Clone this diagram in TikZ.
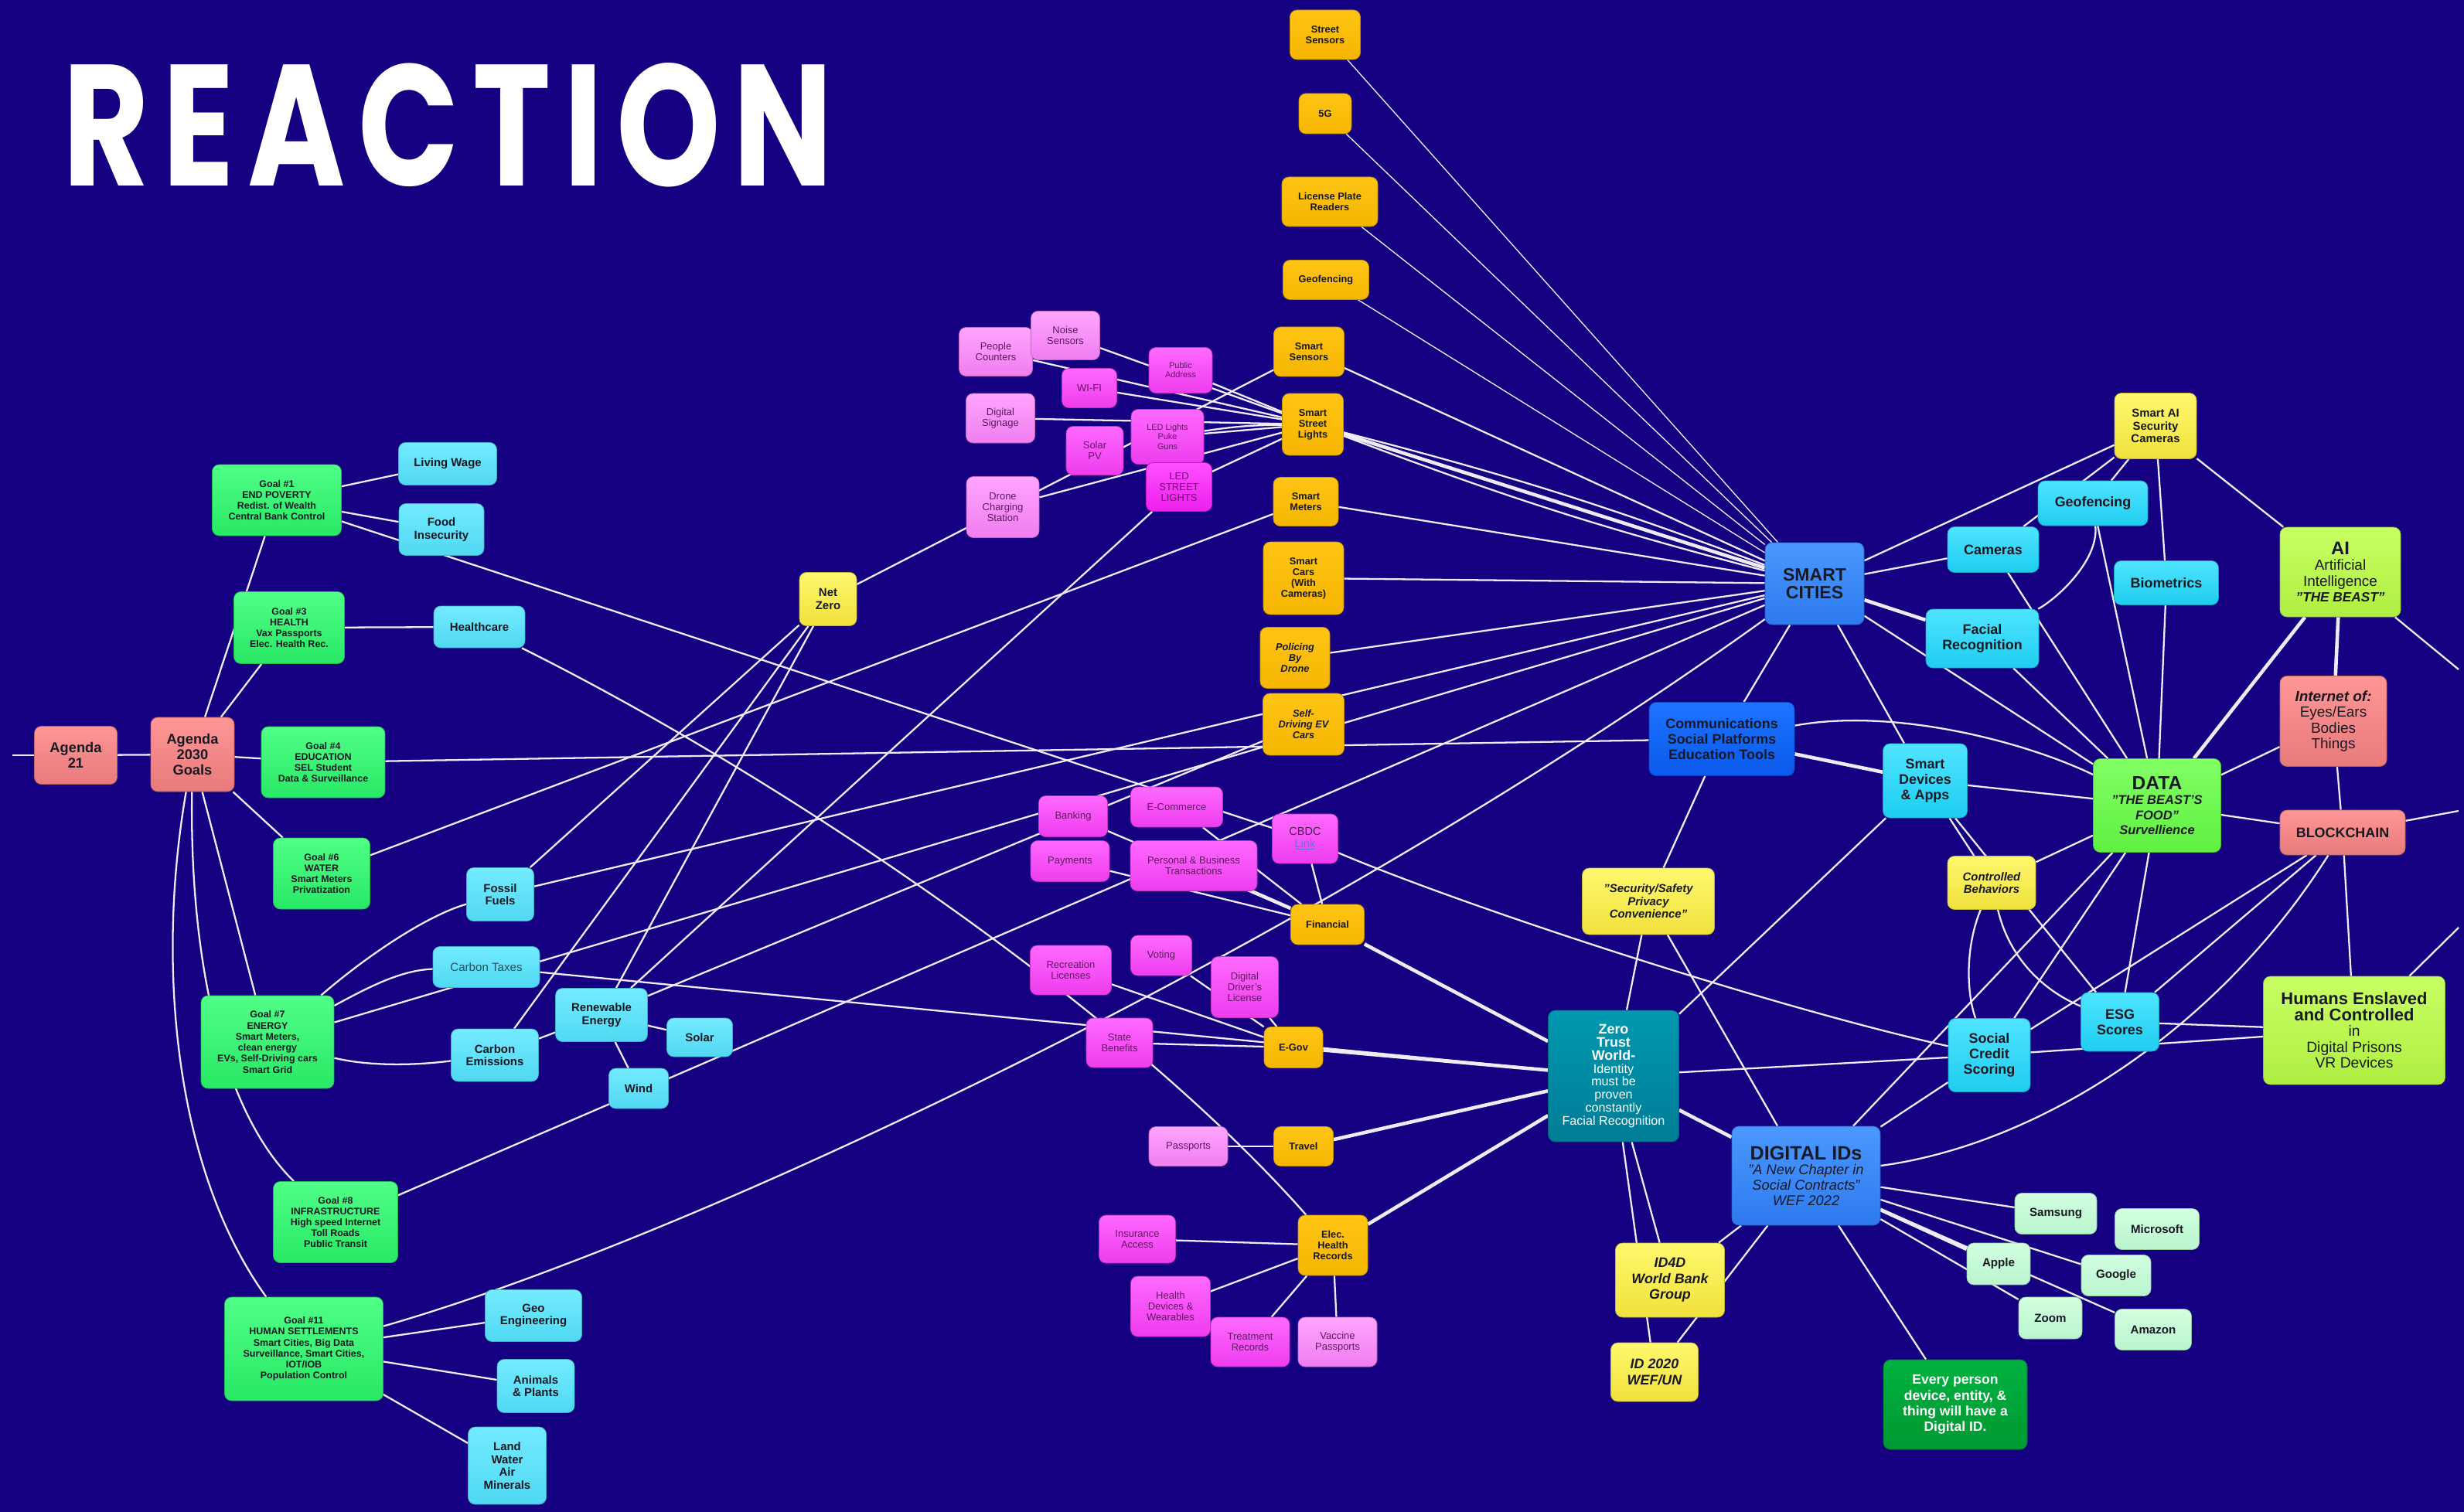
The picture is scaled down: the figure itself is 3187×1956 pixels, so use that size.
\documentclass[tikz,border=0pt]{standalone}
\usepackage{fontspec}
\usepackage{graphicx}
\setmainfont{Liberation Sans}
\newfontfamily\titlefont{Poppins}[LetterSpace=10]
\usetikzlibrary{positioning}

\definecolor{bgc}{RGB}{20,0,128}
\definecolor{wirec}{RGB}{236,236,246}
\definecolor{ink}{RGB}{25,25,35}
\definecolor{pinkink}{RGB}{95,25,95}
\definecolor{ctaxink}{RGB}{40,80,95}
\definecolor{cbdcink}{RGB}{60,40,70}
\definecolor{linkc}{RGB}{110,110,230}
\definecolor{salT}{RGB}{255,150,150}\definecolor{salB}{RGB}{232,122,122}
\definecolor{goT}{RGB}{80,255,135}\definecolor{goB}{RGB}{40,232,100}
\definecolor{cyT}{RGB}{115,235,255}\definecolor{cyB}{RGB}{80,216,242}
\definecolor{cbT}{RGB}{80,228,255}\definecolor{cbB}{RGB}{30,205,240}
\definecolor{yeT}{RGB}{255,248,110}\definecolor{yeB}{RGB}{240,225,60}
\definecolor{orT}{RGB}{255,196,20}\definecolor{orB}{RGB}{245,182,0}
\definecolor{plT}{RGB}{255,165,255}\definecolor{plB}{RGB}{240,125,240}
\definecolor{pmT}{RGB}{255,105,255}\definecolor{pmB}{RGB}{238,60,238}
\definecolor{psT}{RGB}{255,80,255}\definecolor{psB}{RGB}{238,30,238}
\definecolor{blT}{RGB}{75,152,255}\definecolor{blB}{RGB}{45,122,240}
\definecolor{bcT}{RGB}{30,115,255}\definecolor{bcB}{RGB}{10,90,235}
\definecolor{tlT}{RGB}{0,152,176}\definecolor{tlB}{RGB}{0,124,150}
\definecolor{daT}{RGB}{130,255,100}\definecolor{daB}{RGB}{95,240,65}
\definecolor{liT}{RGB}{200,255,100}\definecolor{liB}{RGB}{175,238,65}
\definecolor{evT}{RGB}{0,178,64}\definecolor{evB}{RGB}{0,152,50}
\definecolor{miT}{RGB}{210,255,225}\definecolor{miB}{RGB}{185,245,205}

\newcommand{\fAg}{\fontsize{10.4}{11.2}\selectfont\bfseries}
\newcommand{\fGoal}{\fontsize{7.1}{8.1}\selectfont\bfseries}
\newcommand{\fOr}{\fontsize{7.3}{8.0}\selectfont\bfseries}
\newcommand{\fPk}{\fontsize{7.4}{7.9}\selectfont}
\newcommand{\fPks}{\fontsize{6.2}{6.9}\selectfont}
\newcommand{\fCy}{\fontsize{8.5}{9.4}\selectfont\bfseries}
\newcommand{\fCt}{\fontsize{8.6}{9.4}\selectfont}
\newcommand{\fCb}{\fontsize{8.3}{9.0}\selectfont}
\newcommand{\fBig}{\fontsize{10.2}{11.4}\selectfont\bfseries}
\newcommand{\fReg}{\fontsize{10.8}{11.5}\selectfont}
\newcommand{\fHead}{\fontsize{13.1}{13.5}\selectfont\bfseries}
\newcommand{\fYi}{\fontsize{8.5}{9.4}\selectfont\bfseries\itshape}
\newcommand{\fYa}{\fontsize{8.5}{9.4}\selectfont\bfseries}
\newcommand{\fYb}{\fontsize{10.2}{11.7}\selectfont\bfseries\itshape}
\newcommand{\fCo}{\fontsize{8.6}{9.4}\selectfont\bfseries}
\newcommand{\fEv}{\fontsize{10}{11.5}\selectfont\bfseries}

\pgfdeclarelayer{back}
\pgfdeclarelayer{edges}
\pgfsetlayers{back,edges,main}

\tikzset{
  wire/.style={draw=wirec, line width=1.3pt},
  thinwire/.style={draw=wirec, line width=0.75pt},
  fatwire/.style={draw=wirec, line width=2.6pt},
  wh/.style 2 args={minimum width=#1*0.02cm, minimum height=#2*0.02cm},
  box/.style={rounded corners=0.18cm, inner sep=1pt, align=center, text=ink, line width=0.4pt},
  salmonbox/.style={box, top color=salT, bottom color=salB, draw=salB!80!black},
  goalbox/.style={box, top color=goT, bottom color=goB, draw=goB!80!black, font=\fGoal},
  cyanbox/.style={box, top color=cyT, bottom color=cyB, draw=cyB!80!black, font=\fCy},
  cyanbbox/.style={box, top color=cbT, bottom color=cbB, draw=cbB!80!black, font=\fBig},
  yellowbox/.style={box, top color=yeT, bottom color=yeB, draw=yeB!80!black},
  orangebox/.style={box, top color=orT, bottom color=orB, draw=orB!80!black, font=\fOr},
  pinklbox/.style={box, top color=plT, bottom color=plB, draw=plB!80!black, font=\fPk, text=pinkink},
  pinkbox/.style={box, top color=pmT, bottom color=pmB, draw=pmB!80!black, font=\fPk, text=pinkink},
  pinksbox/.style={box, top color=psT, bottom color=psB, draw=psB!80!black, font=\fPk, text=pinkink},
  bluebox/.style={box, top color=blT, bottom color=blB, draw=blB!80!black},
  commbox/.style={box, top color=bcT, bottom color=bcB, draw=bcB!80!black, font=\fBig},
  tealbox/.style={box, top color=tlT, bottom color=tlB, draw=tlB!80!black, text=white},
  databox/.style={box, top color=daT, bottom color=daB, draw=daB!80!black},
  limebox/.style={box, top color=liT, bottom color=liB, draw=liB!80!black},
  everybox/.style={box, top color=evT, bottom color=evB, draw=evB!80!black, text=white, font=\fEv},
  mintbox/.style={box, top color=miT, bottom color=miB, draw=miB!80!black, font=\fCo},
}

\begin{document}
\begin{tikzpicture}[x=0.02cm, y=-0.02cm]
    \useasboundingbox (0,0) rectangle (3187,1956);
    \begin{pgfonlayer}{back}
        \fill[bgc] (0,0) rectangle (3187,1956);
    \end{pgfonlayer}

    % Title
    \node[anchor=north west, inner sep=0pt, text=white] (title) at (81,81)
        {\resizebox{19.92cm}{3.18cm}{\titlefont\bfseries REACTION}};

    % Agenda and goals
    \node[salmonbox, wh={107}{75}, font=\fAg] (agtwo) at (98,977) {Agenda\\21};
    \node[salmonbox, wh={108}{96}, font=\fAg] (agthirty) at (249,976) {Agenda\\2030\\Goals};
    \node[goalbox, wh={167}{92}] (gone) at (358,647) {Goal \#1\\END POVERTY\\Redist. of Wealth\\Central Bank Control};
    \node[goalbox, wh={143}{93}] (gthree) at (374,812) {Goal \#3\\HEALTH\\Vax Passports\\Elec. Health Rec.};
    \node[goalbox, wh={160}{92}] (gfour) at (418,986) {Goal \#4\\EDUCATION\\SEL Student\\Data \& Surveillance};
    \node[goalbox, wh={125}{92}] (gsix) at (416,1130) {Goal \#6\\WATER\\Smart Meters\\Privatization};
    \node[goalbox, wh={172}{120}] (gseven) at (346,1348) {Goal \#7\\ENERGY\\Smart Meters,\\clean energy\\EVs, Self-Driving cars\\Smart Grid};
    \node[goalbox, wh={161}{105}] (geight) at (434,1581) {Goal \#8\\INFRASTRUCTURE\\High speed Internet\\Toll Roads\\Public Transit};
    \node[goalbox, wh={205}{134}] (geleven) at (393,1745) {Goal \#11\\HUMAN SETTLEMENTS\\Smart Cities, Big Data\\Surveillance, Smart Cities,\\IOT/IOB\\Population Control};

    % Goal topics
    \node[cyanbox, wh={127}{55}] (lwage) at (579,600) {Living Wage};
    \node[cyanbox, wh={110}{67}] (food) at (571,685) {Food\\Insecurity};
    \node[cyanbox, wh={118}{54}] (hcare) at (620,811) {Healthcare};
    \node[cyanbox, wh={87}{69}] (fossil) at (647,1157) {Fossil\\Fuels};
    \node[cyanbox, wh={138}{53}, font=\fCt, text=ctaxink] (ctax) at (629,1251) {Carbon Taxes};
    \node[cyanbox, wh={113}{68}] (cemis) at (640,1365) {Carbon\\Emissions};
    \node[cyanbox, wh={119}{69}] (renew) at (778,1313) {Renewable\\Energy};
    \node[cyanbox, wh={85}{50}] (solar) at (905,1342) {Solar};
    \node[cyanbox, wh={77}{52}] (wind) at (826,1408) {Wind};
    \node[cyanbox, wh={125}{67}] (geo) at (690,1702) {Geo\\Engineering};
    \node[cyanbox, wh={100}{69}] (animals) at (693,1793) {Animals\\\& Plants};
    \node[cyanbox, wh={101}{100}] (land) at (656,1896) {Land\\Water\\Air\\Minerals};
    \node[yellowbox, wh={74}{69}, font=\fCy] (netzero) at (1071,775) {Net\\Zero};

    % Smart city items
    \node[orangebox, wh={91}{64}] (street) at (1714,45) {Street\\Sensors};
    \node[orangebox, wh={68}{52}] (fiveg) at (1714,147) {5G};
    \node[orangebox, wh={124}{64}] (lpr) at (1720,261) {License Plate\\Readers};
    \node[orangebox, wh={111}{51}] (geofo) at (1715,362) {Geofencing};
    \node[orangebox, wh={91}{64}] (ssens) at (1693,455) {Smart\\Sensors};
    \node[orangebox, wh={79}{80}] (ssl) at (1698,549) {Smart\\Street\\Lights};
    \node[orangebox, wh={84}{63}] (smeter) at (1689,649) {Smart\\Meters};
    \node[orangebox, wh={104}{94}] (scars) at (1686,748) {Smart\\Cars\\(With\\Cameras)};
    \node[orangebox, wh={90}{79}, font=\fOr\itshape] (police) at (1675,851) {Policing\\By\\Drone};
    \node[orangebox, wh={105}{80}, font=\fOr\itshape] (sdev) at (1686,937) {Self-\\Driving EV\\Cars};

    % Street light items
    \node[pinklbox, wh={95}{63}] (people) at (1288,455) {People\\Counters};
    \node[pinklbox, wh={89}{63}] (noise) at (1378,434) {Noise\\Sensors};
    \node[pinkbox, wh={71}{51}] (wifi) at (1409,502) {WI-FI};
    \node[pinkbox, wh={82}{59}, font=\fPks] (paddr) at (1527,479) {Public\\Address};
    \node[pinklbox, wh={89}{64}] (signage) at (1294,541) {Digital\\Signage};
    \node[pinkbox, wh={74}{63}] (solarpv) at (1416,583) {Solar\\PV};
    \node[pinkbox, wh={94}{71}, font=\fPks] (puke) at (1510,565) {LED Lights\\Puke\\Guns};
    \node[pinksbox, wh={85}{63}] (ledsl) at (1525,630) {LED\\STREET\\LIGHTS};
    \node[pinklbox, wh={94}{79}] (drone) at (1297,656) {Drone\\Charging\\Station};

    % Finance and government
    \node[pinkbox, wh={89}{53}] (banking) at (1388,1056) {Banking};
    \node[pinkbox, wh={119}{52}] (ecom) at (1522,1044) {E-Commerce};
    \node[pinkbox, wh={85}{64}, font=\fCb, text=cbdcink] (cbdc) at (1688,1085) {CBDC\\{\color{linkc}\underline{Link}}};
    \node[pinkbox, wh={102}{53}] (payments) at (1384,1114) {Payments};
    \node[pinkbox, wh={164}{65}] (pbt) at (1544,1120) {Personal \& Business\\Transactions};
    \node[orangebox, wh={95}{52}] (financial) at (1717,1196) {Financial};
    \node[pinkbox, wh={105}{64}] (recre) at (1385,1255) {Recreation\\Licenses};
    \node[pinkbox, wh={79}{52}] (voting) at (1502,1236) {Voting};
    \node[pinkbox, wh={87}{79}] (ddl) at (1610,1277) {Digital\\Driver's\\License};
    \node[pinkbox, wh={86}{64}] (sbenef) at (1448,1349) {State\\Benefits};
    \node[orangebox, wh={76}{53}] (egov) at (1673,1355) {E-Gov};
    \node[pinklbox, wh={102}{51}] (passports) at (1537,1483) {Passports};
    \node[orangebox, wh={77}{51}] (travel) at (1686,1483) {Travel};
    \node[pinkbox, wh={99}{62}] (insur) at (1471,1603) {Insurance\\Access};
    \node[orangebox, wh={90}{78}] (ehr) at (1724,1611) {Elec.\\Health\\Records};
    \node[pinkbox, wh={103}{78}] (hdev) at (1514,1690) {Health\\Devices \&\\Wearables};
    \node[pinkbox, wh={102}{64}] (treat) at (1617,1736) {Treatment\\Records};
    \node[pinklbox, wh={102}{64}] (vacc) at (1730,1736) {Vaccine\\Passports};

    % Smart cities, data and IDs
    \node[bluebox, wh={128}{106}, font=\fHead] (sc) at (2347,755) {SMART\\CITIES};
    \node[cyanbbox, wh={118}{59}] (cameras) at (2578,711) {Cameras};
    \node[cyanbbox, wh={146}{76}] (facial) at (2564,826) {Facial\\Recognition};
    \node[commbox, wh={188}{95}] (comm) at (2227,956) {Communications\\Social Platforms\\Education Tools};
    \node[cyanbbox, wh={109}{96}] (smartdev) at (2490,1010) {Smart\\Devices\\\& Apps};
    \node[yellowbox, wh={171}{86}, font=\fYi] (security) at (2132,1166) {"Security/Safety\\Privacy\\Convenience"};
    \node[yellowbox, wh={114}{69}, font=\fYi] (ctrl) at (2576,1142) {Controlled\\Behaviors};
    \node[yellowbox, wh={106}{85}, font=\fYa] (smartai) at (2788,551) {Smart AI\\Security\\Cameras};
    \node[cyanbbox, wh={142}{58}] (geocy) at (2707,651) {Geofencing};
    \node[cyanbbox, wh={135}{57}] (biom) at (2802,754) {Biometrics};
    \node[limebox, wh={156}{116}, font=\fReg] (ai) at (3027,740)
        {{\fontsize{13.5}{13.5}\selectfont\bfseries AI}\\Artificial\\Intelligence\\{\fontsize{9.8}{11}\selectfont\bfseries\itshape "THE BEAST"}};
    \node[salmonbox, wh={138}{117}, font=\fReg] (iot) at (3018,933)
        {{\bfseries\itshape Internet of:}\\Eyes/Ears\\Bodies\\Things};
    \node[databox, wh={165}{121}, font=\fontsize{9.4}{11}\selectfont\bfseries\itshape] (data) at (2790,1042)
        {{\fontsize{14}{14}\selectfont\upshape DATA}\\"THE BEAST'S\\FOOD"\\Survellience};
    \node[salmonbox, wh={162}{58}, font=\fBig] (bchain) at (3030,1077) {BLOCKCHAIN};
    \node[cyanbbox, wh={101}{76}] (esg) at (2742,1322) {ESG\\Scores};
    \node[limebox, wh={235}{140}, font=\fontsize{11}{11.7}\selectfont] (humans) at (3045,1333)
        {{\fontsize{12.5}{11.7}\selectfont\bfseries Humans Enslaved}\\{\fontsize{12.5}{11.7}\selectfont\bfseries and Controlled}\\in\\Digital Prisons\\VR Devices};
    \node[tealbox, wh={169}{170}, font=\fontsize{9.2}{9.6}\selectfont] (zt) at (2087,1392)
        {{\fontsize{10.2}{9.6}\selectfont\bfseries Zero}\\{\fontsize{10.2}{9.6}\selectfont\bfseries Trust}\\{\fontsize{10.2}{9.6}\selectfont\bfseries World-}\\Identity\\must be\\proven\\constantly\\Facial Recognition};
    \node[cyanbbox, wh={106}{95}] (social) at (2573,1365) {Social\\Credit\\Scoring};
    \node[bluebox, wh={192}{128}, font=\fontsize{10.4}{11.2}\selectfont\itshape] (dids) at (2336,1521)
        {{\fontsize{14.3}{14}\selectfont\upshape\bfseries DIGITAL IDs}\\"A New Chapter in\\Social Contracts"\\WEF 2022};
    \node[mintbox, wh={106}{53}] (samsung) at (2659,1570) {Samsung};
    \node[mintbox, wh={109}{53}] (msoft) at (2790,1590) {Microsoft};
    \node[mintbox, wh={82}{54}] (apple) at (2585,1635) {Apple};
    \node[mintbox, wh={90}{53}] (google) at (2737,1650) {Google};
    \node[mintbox, wh={82}{54}] (zoomco) at (2652,1705) {Zoom};
    \node[mintbox, wh={99}{53}] (amazon) at (2785,1720) {Amazon};
    \node[yellowbox, wh={141}{96}, font=\fYb] (idfourd) at (2160,1656) {ID4D\\World Bank\\Group};
    \node[yellowbox, wh={113}{76}, font=\fYb] (idtwenty) at (2140,1775) {ID 2020\\WEF/UN};
    \node[everybox, wh={186}{116}] (every) at (2529,1817) {Every person\\device, entity, \&\\thing will have a\\Digital ID.};

    % loose ends at the picture edges
    \coordinate (leftend) at (16,977);
    \coordinate (aiend) at (3180,866);
    \coordinate (bcend) at (3180,1049);
    \coordinate (huend) at (3180,1200);

    \begin{pgfonlayer}{edges}
        % Agenda and goals
        \draw[wire] (leftend) -- (agtwo);
        \draw[wire] (agtwo) -- (agthirty);
        \foreach \g in {gone,gthree,gfour,gsix,gseven}
            \draw[wire] (agthirty) -- (\g);
        \draw[wire] (agthirty) .. controls (245,1250) and (290,1440) .. (geight);
        \draw[wire] (agthirty) .. controls (200,1260) and (230,1520) .. (geleven);
        \draw[wire] (gone) -- (lwage);
        \draw[wire] (gone) -- (food);
        \draw[wire] (gone) -- (cbdc);
        \draw[wire] (gthree) -- (hcare);
        \draw[wire] (hcare) .. controls (1000,1000) and (1450,1300) .. (ehr);
        \draw[wire] (gfour) -- (comm);
        \draw[wire] (gsix) -- (smeter);
        \draw[wire] (gseven) .. controls (470,1240) and (550,1185) .. (fossil);
        \draw[wire] (gseven) .. controls (480,1275) and (520,1255) .. (ctax);
        \draw[wire] (gseven) .. controls (480,1380) and (540,1378) .. (cemis);
        \draw[wire] (gseven) -- (sc);
        \draw[wire] (geight) -- (sc);
        \draw[wire] (geleven) .. controls (900,1600) and (1700,1220) .. (sc);
        \foreach \t in {geo,animals,land}
            \draw[wire] (geleven) -- (\t);

        % Energy
        \draw[wire] (fossil) -- (netzero);
        \draw[wire] (fossil) -- (sc);
        \draw[wire] (ctax) -- (zt);
        \draw[wire] (cemis) -- (netzero);
        \draw[wire] (cemis) -- (renew);
        \foreach \t in {netzero,ledsl,sdev,solar,wind}
            \draw[wire] (renew) -- (\t);
        \draw[wire] (netzero) -- (ssens);

        % Street lights
        \foreach \s in {people,noise,wifi,paddr,signage,puke,ledsl,drone}
            \draw[wire] (\s) -- (ssl);
        \draw[wire] (puke) to[bend left=4] (ssl);

        % Into smart cities
        \foreach \s in {street,fiveg,lpr,geofo}
            \draw[thinwire] (\s) -- (sc);
        \foreach \s in {ssens,smeter,scars,police}
            \draw[wire] (\s) -- (sc);
        \draw[fatwire] (ssl) -- (sc);
        \draw[wire] (ssl) to[bend left=3] (sc);
        \draw[wire] (ssl) to[bend right=3] (sc);

        % Finance and government
        \foreach \s in {banking,payments,ecom,cbdc}
            \draw[wire] (\s) -- (financial);
        \draw[fatwire] (pbt) -- (financial);
        \draw[wire] (cbdc) .. controls (1900,1175) and (2300,1305) .. (social);
        \draw[fatwire] (financial) -- (zt);
        \foreach \s in {recre,voting,ddl,sbenef}
            \draw[wire] (\s) -- (egov);
        \draw[fatwire] (egov) -- (zt);
        \draw[wire] (passports) -- (travel);
        \draw[fatwire] (travel) -- (zt);
        \foreach \s in {insur,hdev,treat,vacc}
            \draw[wire] (\s) -- (ehr);
        \draw[fatwire] (ehr) -- (zt);

        % Smart cities to data
        \foreach \t in {smartai,cameras,data,comm,smartdev}
            \draw[wire] (sc) -- (\t);
        \draw[fatwire] (sc) -- (facial);
        \foreach \t in {cameras,geocy,biom,ai}
            \draw[wire] (smartai) -- (\t);
        \foreach \s in {cameras,geocy,facial,biom,smartdev,ctrl,iot}
            \draw[wire] (\s) -- (data);
        \draw[wire] (geocy) .. controls (2715,725) and (2660,775) .. (facial);
        \draw[fatwire] (comm) -- (smartdev);
        \draw[wire] (comm) .. controls (2450,915) and (2620,960) .. (data);
        \draw[wire] (comm) -- (security);
        \foreach \t in {ctrl,esg,zt}
            \draw[wire] (smartdev) -- (\t);
        \draw[wire] (ctrl) .. controls (2540,1230) and (2545,1290) .. (social);
        \draw[wire] (ctrl) .. controls (2600,1245) and (2650,1285) .. (esg);
        \draw[wire] (security) -- (zt);
        \draw[wire] (security) -- (dids);

        % AI, data and blockchain
        \draw[fatwire] (ai) -- (iot);
        \draw[fatwire] (ai) -- (data);
        \draw[wire] (ai) -- (aiend);
        \draw[wire] (iot) -- (bchain);
        \foreach \t in {bchain,esg,social,dids}
            \draw[wire] (data) -- (\t);
        \foreach \t in {esg,social,humans,bcend}
            \draw[wire] (bchain) -- (\t);
        \draw[wire] (bchain) .. controls (2870,1330) and (2640,1480) .. (dids);
        \foreach \t in {esg,social,huend}
            \draw[wire] (humans) -- (\t);

        % Zero trust and digital IDs
        \draw[wire] (zt) -- (social);
        \draw[fatwire] (zt) -- (dids);
        \draw[wire] (zt) -- (idfourd);
        \draw[wire] (zt) -- (idtwenty);
        \foreach \t in {idfourd,idtwenty,social,samsung,google,amazon,zoomco,every}
            \draw[wire] (dids) -- (\t);
        \draw[fatwire] (dids) -- (apple);
    \end{pgfonlayer}
\end{tikzpicture}
\end{document}
